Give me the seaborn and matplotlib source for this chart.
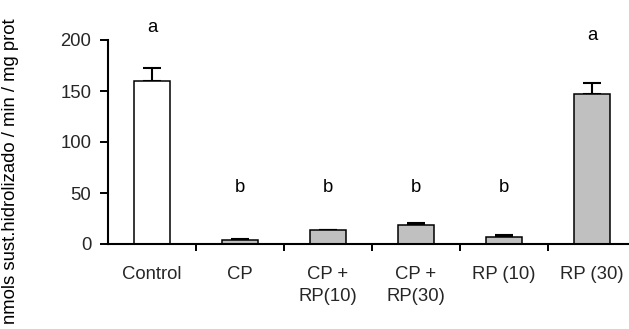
import matplotlib
matplotlib.use("Agg")
import matplotlib.pyplot as plt
import seaborn as sns
import pandas as pd

categories = ["Control", "CP", "CP +\nRP(10)", "CP +\nRP(30)", "RP (10)", "RP (30)"]
means = [160, 3.5, 13.5, 18.5, 6.5, 147.5]
errors = [13, 1.5, 0.7, 2.3, 2.0, 10.5]
letters = ["a", "b", "b", "b", "b", "a"]
letter_y = [212, 55, 55, 55, 55, 204]
bar_colors = ["white", "#c0c0c0", "#c0c0c0", "#c0c0c0", "#c0c0c0", "#c0c0c0"]

sns.set_theme(style="ticks")
plt.rcParams["font.family"] = ["Liberation Sans", "DejaVu Sans"]

FS = 13.3
W, H = 629, 329
fig = plt.figure(figsize=(W / 100, H / 100), dpi=100)
ax = fig.add_axes([108 / W, 85 / H, 528 / W, 204 / H])

df = pd.DataFrame({"cat": categories, "val": means})
sns.barplot(data=df, x="cat", y="val", hue="cat", palette=bar_colors, legend=False,
            width=0.41, edgecolor="black", linewidth=1.1, ax=ax, errorbar=None)

xs = list(range(len(categories)))
ax.errorbar(xs, means, yerr=[[0] * len(errors), errors], fmt="none", ecolor="black",
            elinewidth=1.5, capsize=6.5, capthick=1.5, zorder=1)
for b in ax.patches:
    b.set_zorder(2)

for x, t, ly in zip(xs, letters, letter_y):
    ax.text(x, ly, t, ha="center", va="center", fontsize=FS, color="black")

ax.set_xlim(-0.5, 5.5)
ax.set_ylim(0, 200)
ax.set_yticks([0, 50, 100, 150, 200])
ax.set_xticks([0.5, 1.5, 2.5, 3.5, 4.5], minor=False)
ax.set_xticklabels([])
ax.set_xticks(xs, minor=True)
ax.set_xticklabels(categories, minor=True, fontsize=FS, linespacing=1.35, va="top")
ax.tick_params(axis="x", which="minor", length=0, pad=16)
ax.tick_params(axis="x", which="major", length=5, width=1.4, direction="out", color="black")
ax.tick_params(axis="y", length=6, width=1.4, direction="out", color="black",
               labelsize=FS, pad=6)

ax.set_xlabel("")
ax.set_ylabel("nmols sust.hidrolizado / min / mg prot", fontsize=FS, color="black")
ax.yaxis.label.set_va("center")
ax.yaxis.label.set_ha("right")
ax.yaxis.set_label_coords((11 - 108) / 528, (311 - 85) / 204)

for s in ["top", "right"]:
    ax.spines[s].set_visible(False)
for s in ["left", "bottom"]:
    ax.spines[s].set_color("black")
    ax.spines[s].set_linewidth(1.5)
ax.set_facecolor("white")
fig.patch.set_facecolor("white")

fig.savefig("out.png", dpi=100)
